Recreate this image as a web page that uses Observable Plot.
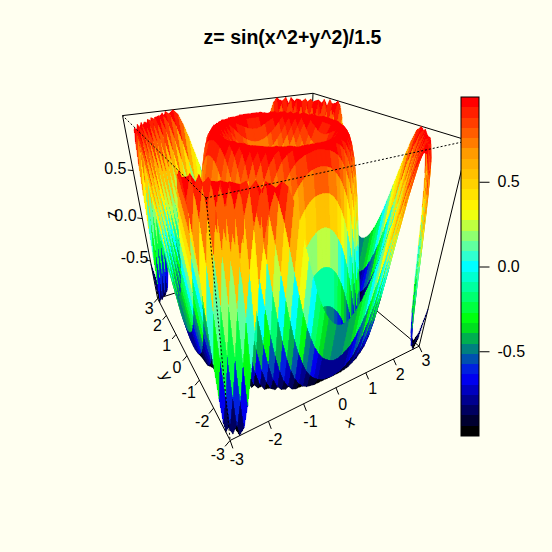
<!DOCTYPE html>
<html><head><meta charset="utf-8">
<script src="https://cdn.jsdelivr.net/npm/d3@7"></script>
<script src="https://cdn.jsdelivr.net/npm/@observablehq/plot@0.6"></script>
<style>html,body{margin:0;background:#fffff0}</style></head><body><script>
const titleText="z= sin(x^2+y^2)/1.5";
const xTicks=[-3,-2,-1,0,1,2,3],yTicks=[-3,-2,-1,0,1,2,3],zTicks=[-0.5,0,0.5],barTicks=[-0.5,0,0.5];
const rampNodes=["#000000","#0000ff","#00ff00","#00ffff","#ffff00","#ffa500","#ff0000"];
const bandCount=33;
// One quadrant of the 50x50 surface, z in hundredths. Values tabulated from the formula in the chart's title
// and compared with the picture; the other three quadrants mirror it.
const zQuarter=[
[0,2,6,12,20,30,41,54,66,79,89,97,100,97,86,67,41,8,-28,-61,-87,-100,-94,-69,-28],
[2,4,8,14,22,32,43,55,68,80,90,97,100,96,85,66,39,6,-30,-63,-88,-100,-93,-67,-26],
[6,8,12,18,26,36,47,58,71,82,92,98,100,95,83,63,35,2,-34,-66,-90,-100,-92,-64,-22],
[12,14,18,24,32,41,52,63,75,85,94,99,99,93,79,58,29,-4,-39,-70,-93,-100,-89,-60,-16],
[20,22,26,32,39,48,58,69,80,89,96,100,98,90,74,51,22,-12,-46,-76,-95,-99,-85,-53,-8],
[30,32,36,41,48,57,66,76,85,93,99,100,96,85,67,42,12,-22,-55,-82,-98,-98,-80,-44,2],
[41,43,47,52,58,66,75,83,91,97,100,98,92,78,58,31,0,-34,-65,-88,-100,-95,-72,-33,14],
[54,55,58,63,69,76,83,90,96,99,100,95,85,69,46,18,-14,-46,-75,-94,-100,-89,-61,-20,28],
[66,68,71,75,80,85,91,96,99,100,97,89,76,56,31,2,-30,-60,-84,-98,-98,-81,-48,-4,43],
[79,80,82,85,89,93,97,99,100,97,91,79,63,41,14,-16,-46,-73,-93,-100,-92,-69,-32,14,58],
[89,90,92,94,96,99,100,100,97,91,81,66,46,22,-6,-35,-63,-85,-98,-98,-83,-53,-12,33,73],
[97,97,98,99,100,100,98,95,89,79,66,48,25,0,-28,-55,-78,-95,-100,-92,-69,-33,10,53,86],
[100,100,100,99,98,96,92,85,76,63,46,25,2,-24,-50,-73,-91,-100,-96,-80,-50,-10,33,72,96],
[97,96,95,93,90,85,78,69,56,41,22,0,-24,-48,-70,-88,-99,-99,-86,-61,-26,16,56,87,100],
[86,85,83,79,74,67,58,46,31,14,-6,-28,-50,-70,-87,-98,-99,-90,-69,-37,2,43,77,97,97],
[67,66,63,58,51,42,31,18,2,-16,-35,-55,-73,-88,-98,-100,-92,-73,-44,-8,31,67,92,100,85],
[41,39,35,29,22,12,0,-14,-30,-46,-63,-78,-91,-99,-99,-92,-74,-48,-14,24,60,87,100,93,65],
[8,6,2,-4,-12,-22,-34,-46,-60,-73,-85,-95,-100,-99,-90,-73,-48,-16,20,55,83,99,96,75,36],
[-28,-30,-34,-39,-46,-55,-65,-75,-84,-93,-98,-100,-96,-86,-69,-44,-14,20,53,81,97,98,81,46,0],
[-61,-63,-66,-70,-76,-82,-88,-94,-98,-100,-98,-92,-80,-61,-37,-8,24,55,81,97,99,84,53,10,-37],
[-87,-88,-90,-93,-95,-98,-100,-100,-98,-92,-83,-69,-50,-26,2,31,60,83,97,99,85,57,16,-29,-70],
[-100,-100,-100,-100,-99,-98,-95,-89,-81,-69,-53,-33,-10,16,43,67,87,99,98,84,57,18,-25,-66,-93],
[-94,-93,-92,-89,-85,-80,-72,-61,-48,-32,-12,10,33,56,77,92,100,96,81,53,16,-25,-64,-92,-100],
[-69,-67,-64,-60,-53,-44,-33,-20,-4,14,33,53,72,87,97,100,93,75,46,10,-29,-66,-92,-100,-87],
[-28,-26,-22,-16,-8,2,14,28,43,58,73,86,96,100,97,85,65,36,0,-37,-70,-93,-100,-87,-54]];

// Camera fitted to the box corners in the picture.
const camera={theta:-29.79,phi:30.34,expand:1.034,r:1.811};
const screen={sx:412.9,ox:278.2,sy:-405.8,oy:236.5};
function project(x,y,z){
 const t=camera.theta*Math.PI/180,f=camera.phi*Math.PI/180,zs=z*camera.expand;
 const X=x*Math.cos(t)+y*Math.sin(t),D=x*Math.sin(t)-y*Math.cos(t);
 const Y=zs*Math.cos(f)-D*Math.sin(f),W=zs*Math.sin(f)+D*Math.cos(f);
 const w=2+camera.r-W;
 return {x:screen.sx*X/w+screen.ox,y:screen.sy*Y/w+screen.oy,w};
}
const N=50;
const quarterIndex=i=>i<25?24-i:i-25;
const zAt=(i,j)=>zQuarter[quarterIndex(i)][quarterIndex(j)]/100;
const gridPos=i=>-1+2*i/(N-1);
const [zmin,zmax]=d3.extent(zQuarter.flat()).map(v=>v/100);
let facets=[];
for(let i=0;i<N-1;i++)for(let j=0;j<N-1;j++){
 const c=[[i,j],[i+1,j],[i+1,j+1],[i,j+1],[i,j]].map(([a,b])=>project(gridPos(a),gridPos(b),zAt(a,b)));
 const v=(zAt(i,j)+zAt(i+1,j)+zAt(i+1,j+1)+zAt(i,j+1))/4;
 facets.push({c,v,w:d3.mean(c.slice(0,4),d=>d.w),id:i*1000+j});
}
facets.sort((a,b)=>b.w-a.w);
const rows=facets.flatMap(f=>f.c.map(q=>({x:q.x,y:q.y,v:f.v,id:f.id})));
const ramp=d3.scaleLinear().domain(rampNodes.map((_,i)=>i/(rampNodes.length-1))).range(rampNodes);
const bandColors=d3.range(bandCount).map(i=>ramp(i/(bandCount-1)));
const thresholds=d3.range(1,bandCount).map(i=>zmin+(zmax-zmin)*i/bandCount);
const seg=(a,b)=>{const A=project(...a),B=project(...b);return {x1:A.x,y1:A.y,x2:B.x,y2:B.y}};
const At=[-1,-1,1],Ab=[-1,-1,-1],Bt=[1,-1,1],Bb=[1,-1,-1],Ct=[-1,1,1],Cb=[-1,1,-1],Dt=[1,1,1],Db=[1,1,-1];
const backEdges=[[Ct,Dt],[Dt,Bt],[Ct,Cb],[Dt,Db],[Bt,Bb],[Cb,Db],[Db,Bb]].map(s=>seg(...s));
const frontEdges=[[At,Ct],[At,Bt],[At,Ab]].map(s=>seg(...s));
const axisEdges=[[Ab,Bb],[Ab,Cb]].map(s=>seg(...s));
const tickSegs=[
 ...xTicks.map(v=>seg([v/3,-1,-1],[v/3,-1.045,-1.04])),
 ...yTicks.map(v=>seg([-1,v/3,-1],[-1.045,v/3,-1.04])),
 ...zTicks.map(v=>seg([-1,1,v],[-1.04,1.04,v]))];
const lab=(a,s)=>({...project(...a),s});
const tickLabels=[
 ...xTicks.map(v=>lab([v/3,-1.11,-1.1],String(v))),
 ...yTicks.map(v=>lab([-1.11,v/3,-1.1],String(v))),
 ...zTicks.map(v=>lab([-1.135,1.135,v],v.toFixed(1)))];
const xName=lab([0,-1.22,-1.2],"x"),yName=lab([-1.22,0,-1.15],"y"),zName=lab([-1.25,1.25,0],"z");
const barY=v=>436-(v-zmin)/(zmax-zmin)*339;
const bands=d3.range(bandCount).map(i=>({a:zmin+(zmax-zmin)*i/bandCount,b:zmin+(zmax-zmin)*(i+1)/bandCount}));
const edge={x1:"x1",y1:"y1",x2:"x2",y2:"y2",stroke:"black",strokeWidth:1};
const txt={x:"x",y:"y",text:"s",fontSize:16,fill:"black"};
document.body.append(Plot.plot({width:552,height:552,margin:0,
 style:{background:"#fffff0",fontFamily:"Liberation Sans, Arial, sans-serif"},
 x:{domain:[0,552],range:[0,552],axis:null},y:{domain:[0,552],range:[0,552],axis:null},
 color:{type:"threshold",domain:thresholds,range:bandColors},
 marks:[
 Plot.link(backEdges,edge),
 Plot.line(rows,{x:"x",y:"y",z:"id",fill:"v",stroke:"v",strokeWidth:.4,shapeRendering:"crispEdges"}),
 Plot.link(frontEdges,{...edge,strokeDasharray:"2,2"}),
 Plot.link(axisEdges,edge),
 Plot.link(tickSegs,edge),
 Plot.text(tickLabels,txt),
 Plot.text([xName],{...txt,rotate:-26}),
 Plot.text([yName],{...txt,rotate:63}),
 Plot.text([zName],{...txt,rotate:-100}),
 Plot.rect(bands,{x1:()=>461,x2:()=>479,y1:d=>barY(d.a),y2:d=>barY(d.b),fill:d=>(d.a+d.b)/2,shapeRendering:"crispEdges"}),
 Plot.rect([0],{x1:()=>461,x2:()=>479,y1:()=>97,y2:()=>436,fill:"none",stroke:"black",strokeWidth:1}),
 Plot.link(barTicks,{x1:()=>479,x2:()=>489,y1:d=>barY(d),y2:d=>barY(d),stroke:"black"}),
 Plot.text(barTicks,{x:()=>497,y:d=>barY(d),text:d=>d.toFixed(1),textAnchor:"start",fontSize:16,fill:"black"}),
 Plot.text([titleText],{x:()=>292,y:()=>37,text:d=>d,fontSize:19.5,fontWeight:"bold",fill:"black"})
 ]}));
</script></body></html>
